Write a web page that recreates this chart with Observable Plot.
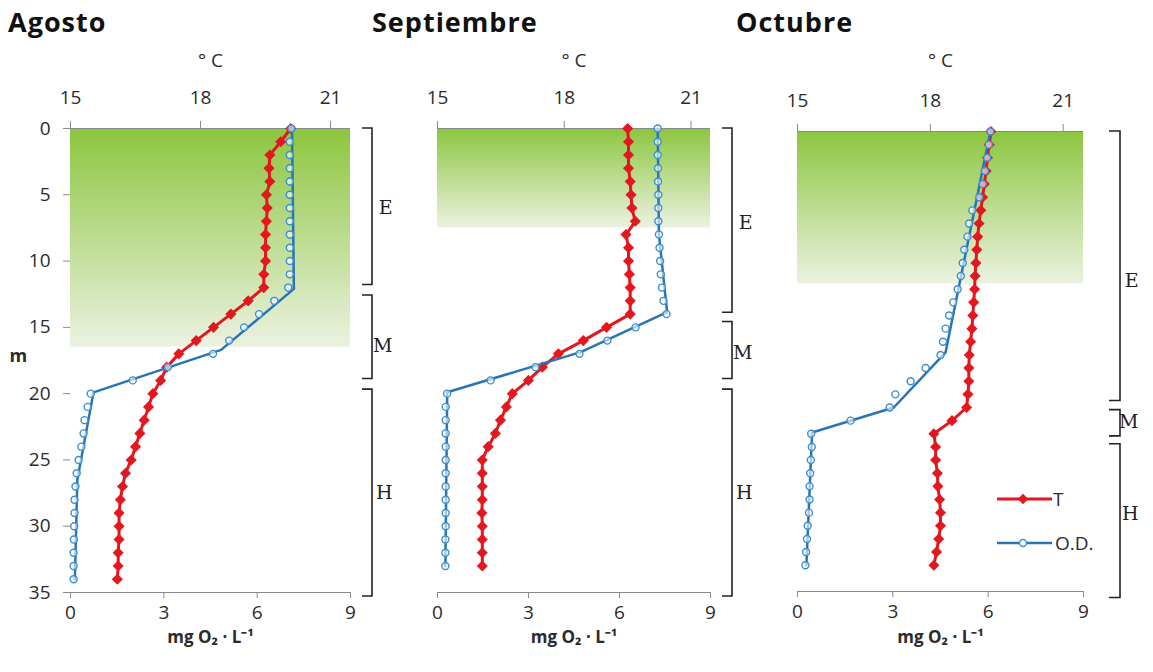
<!DOCTYPE html>
<html>
<head>
<meta charset="utf-8">
<script src="https://cdn.jsdelivr.net/npm/d3@7"></script>
<script src="https://cdn.jsdelivr.net/npm/@observablehq/plot@0.6"></script>
<style>
  body { margin: 0; background: #fff; }
  #root { position: relative; width: 1153px; height: 672px; overflow: hidden; font-family: "Open Sans", sans-serif; }
  .panel { position: absolute; top: 0; height: 672px; }
  .panel svg { position: absolute; top: 0; left: 0; }
  .title { position: absolute; top: 3px; font: 700 27px "Open Sans", sans-serif; letter-spacing: 1px; color: #111; white-space: nowrap; }
  .legend { position: absolute; left: 990px; top: 480px; }
</style>
</head>
<body>
<svg width="0" height="0" style="position:absolute">
  <defs>
    <linearGradient id="greenGrad" x1="0" y1="0" x2="0" y2="1">
      <stop offset="0" stop-color="#8cc63f"/>
      <stop offset="1" stop-color="#ebf2e0"/>
    </linearGradient>
  </defs>
</svg>
<div id="root"></div>
<script>
// ---------------- DATA ----------------
const months = ["Agosto", "Septiembre", "Octubre"];
const tempTicks = [15, 18, 21];
const oxyTicks = [0, 3, 6, 9];
const depthTicks = [0, 5, 10, 15, 20, 25, 30, 35];
const zoneLabels = ["E", "M", "H"];
const legendLabels = ["T", "O.D."];

// Agosto
const depthAgo = [0,1,2,3,4,5,6,7,8,9,10,11,12,13,14,15,16,17,18,19,20,21,22,23,24,25,26,27,28,29,30,31,32,33,34];
const tempAgo = [20.08,19.85,19.60,19.58,19.60,19.52,19.54,19.52,19.50,19.50,19.50,19.46,19.46,19.10,18.70,18.30,17.90,17.50,17.22,17.08,16.90,16.80,16.70,16.60,16.50,16.40,16.27,16.20,16.15,16.12,16.12,16.12,16.10,16.10,16.08];
const oxyAgo = [7.10,7.05,7.05,7.05,7.05,7.05,7.05,7.05,7.05,7.05,7.05,7.05,7.00,6.55,6.06,5.58,5.10,4.58,3.13,2.00,0.65,0.55,0.45,0.42,0.35,0.26,0.20,0.16,0.13,0.13,0.12,0.11,0.10,0.10,0.10];
const odLineDepthAgo = [0, 12.1, 16.7, 19.9, 26.5, 34];
const odLineValAgo = [7.12, 7.18, 4.84, 0.74, 0.22, 0.14];
const zoneTopAgo = [0, 12.6, 19.7];
const zoneBottomAgo = [11.8, 18.9, 35.3];
const zoneLabelDepthAgo = [6.0, 16.4, 27.5];
const photicAgo = 16.5;

// Septiembre
const depthSep = [0,1,2,3,4,5,6,7,8,9,10,11,12,13,14,15,16,17,18,19,20,21,22,23,24,25,26,27,28,29,30,31,32,33];
const tempSep = [19.50,19.52,19.52,19.52,19.56,19.58,19.60,19.68,19.46,19.52,19.52,19.54,19.56,19.56,19.56,19.00,18.45,17.86,17.48,17.15,16.77,16.63,16.49,16.37,16.20,16.06,16.06,16.06,16.06,16.05,16.06,16.06,16.06,16.06];
const oxySep = [7.26,7.26,7.26,7.27,7.27,7.28,7.28,7.28,7.30,7.32,7.34,7.36,7.40,7.45,7.55,6.53,5.60,4.68,3.23,1.75,0.32,0.27,0.27,0.27,0.27,0.27,0.27,0.27,0.27,0.27,0.27,0.26,0.26,0.26];
const odLineDepthSep = [0, 8, 13.85, 16.87, 19.9, 33];
const odLineValSep = [7.26, 7.30, 7.57, 4.72, 0.32, 0.26];
const zoneTopSep = [0, 14.6, 19.7];
const zoneBottomSep = [13.9, 18.9, 35.3];
const zoneLabelDepthSep = [7.1, 16.9, 27.5];
const photicSep = 7.5;

// Octubre
const depthOct = [0,1,2,3,4,5,6,7,8,9,10,11,12,13,14,15,16,17,18,19,20,21,22,23,24,25,26,27,28,29,30,31,32,33];
const tempOct = [19.37,19.33,19.29,19.26,19.22,19.18,19.14,19.10,19.07,19.05,19.03,19.01,19.00,18.98,18.96,18.94,18.91,18.88,18.87,18.87,18.85,18.82,18.49,18.08,18.12,18.12,18.16,18.17,18.21,18.23,18.23,18.19,18.14,18.08];
const oxyOct = [6.07,6.02,5.97,5.90,5.83,5.72,5.50,5.40,5.35,5.25,5.20,5.14,5.04,4.90,4.77,4.66,4.58,4.50,4.03,3.56,3.08,2.90,1.67,0.43,0.45,0.42,0.40,0.38,0.38,0.36,0.32,0.30,0.27,0.25];
const odLineDepthOct = [0, 16.8, 21.0, 22.9, 33];
const odLineValOct = [6.07, 4.66, 3.03, 0.46, 0.28];
const zoneTopOct = [0, 21.2, 23.8];
const zoneBottomOct = [20.5, 23.2, 35.5];
const zoneLabelDepthOct = [11.4, 22.1, 29.1];
const photicOct = 11.6;

// ---------------- STYLE / LAYOUT ----------------
const axisGray = "#8a8a8a";
const textColor = "#2b2b2b";
const red = "#e3171e";
const blue = "#2874b5";
const circleBlue = "#3a8fd0";
const tempDomain = [15, 21.46];
const oxyDomain = [0, 9];
const depthDomain = [0, 35];

const layout = [
  {left: 0,   ml: 70, pw: 280, mr: 60, top: 128, bottom: 592, yAxis: true,  bx: [12, 22], lx: 42, titleX: 8},
  {left: 420, ml: 17, pw: 273, mr: 60, top: 128, bottom: 592, yAxis: false, bx: [12, 22], lx: 42, titleX: 372},
  {left: 780, ml: 17, pw: 286, mr: 70, top: 131, bottom: 591, yAxis: false, bx: [26, 37], lx: 55, titleX: 736}
];

const series = [
  {depth: depthAgo, temp: tempAgo, oxy: oxyAgo, lineD: odLineDepthAgo, lineV: odLineValAgo, zTop: zoneTopAgo, zBot: zoneBottomAgo, zLab: zoneLabelDepthAgo, green: photicAgo},
  {depth: depthSep, temp: tempSep, oxy: oxySep, lineD: odLineDepthSep, lineV: odLineValSep, zTop: zoneTopSep, zBot: zoneBottomSep, zLab: zoneLabelDepthSep, green: photicSep},
  {depth: depthOct, temp: tempOct, oxy: oxyOct, lineD: odLineDepthOct, lineV: odLineValOct, zTop: zoneTopOct, zBot: zoneBottomOct, zLab: zoneLabelDepthOct, green: photicOct}
];

const root = document.getElementById("root");
const intFmt = d3.format("d");

series.forEach((s, k) => {
  const L = layout[k];
  const W = L.ml + L.pw + L.mr;
  const tRows = s.depth.map((d, i) => ({d, t: s.temp[i]}));
  const oRows = s.depth.map((d, i) => ({d, v: s.oxy[i]}));
  const lRows = s.lineD.map((d, i) => ({d, v: s.lineV[i]}));
  const zones = zoneLabels.map((z, i) => ({z, top: s.zTop[i], bottom: s.zBot[i], at: s.zLab[i]}));
  const base = {width: W, height: 672, marginLeft: L.ml, marginRight: L.mr, marginTop: L.top, marginBottom: 672 - L.bottom};
  const baseStyle = {fontFamily: "'Open Sans', sans-serif", fontSize: "19px", color: textColor, overflow: "visible"};

  // Temperature layer (top axis, green photic zone)
  const tPlot = Plot.plot({
    ...base,
    style: {...baseStyle, background: "white"},
    x: {domain: tempDomain},
    y: {domain: depthDomain, reverse: true, axis: null},
    marks: [
      Plot.rect([{top: 0, bottom: s.green}], {y1: "top", y2: "bottom", fill: "url(#greenGrad)"}),
      Plot.ruleY([depthTicks[0]], {stroke: axisGray, strokeWidth: 1.2}),
      Plot.axisX({anchor: "top", ticks: tempTicks, tickFormat: intFmt, tickSize: 8, tickPadding: 17, stroke: axisGray, fill: textColor, label: null, fontSize: 19}),
      Plot.text(["° C"], {frameAnchor: "top", dy: 53 - L.top, fontSize: 19, fill: textColor, letterSpacing: 2}),
      Plot.line(tRows, {x: "t", y: "d", stroke: red, strokeWidth: 3}),
      Plot.dot(tRows, {x: "t", y: "d", symbol: d3.symbolDiamond2, r: 5, fill: red, stroke: "none"})
    ]
  });

  // Oxygen layer (bottom axis, depth axis, zones)
  const oMarks = [
    Plot.ruleY([depthTicks[depthTicks.length - 1]], {stroke: axisGray, strokeWidth: 1.2}),
    Plot.axisX({anchor: "bottom", ticks: oxyTicks, tickFormat: intFmt, tickSize: 6, tickPadding: 7, stroke: axisGray, fill: textColor, label: null, fontSize: 19}),
    Plot.text(["mg O₂ · L⁻¹"], {frameAnchor: "bottom", dy: 642 - L.bottom, fontWeight: "bold", fontSize: 17, fill: textColor}),
    Plot.line(lRows, {x: "v", y: "d", stroke: blue, strokeWidth: 2.5}),
    Plot.dot(oRows, {x: "v", y: "d", r: 3.5, stroke: circleBlue, strokeWidth: 1.4, fill: "white", fillOpacity: 0.6}),
    Plot.text(zones, {y: "at", text: "z", frameAnchor: "right", dx: L.lx, fontFamily: "DejaVu Serif", fontSize: 19, fill: "#222"})
  ];
  if (L.yAxis) {
    oMarks.push(Plot.axisY({ticks: depthTicks, tickFormat: intFmt, tickSize: 7, tickPadding: 13, stroke: axisGray, fill: textColor, label: null, fontSize: 19}));
    oMarks.push(Plot.text(["m"], {frameAnchor: "left", dx: -61, dy: -4, fontWeight: "bold", fontSize: 18, fill: textColor}));
  }
  const oPlot = Plot.plot({
    ...base,
    style: {...baseStyle, background: "transparent"},
    x: {domain: oxyDomain},
    y: L.yAxis ? {domain: depthDomain, reverse: true} : {domain: depthDomain, reverse: true, axis: null},
    marks: oMarks
  });

  // Zone brackets, positioned with the plot's own depth scale
  const ys = oPlot.scale("y");
  const xr = L.ml + L.pw;
  const g = d3.select(oPlot).append("g").attr("fill", "none").attr("stroke", "#222").attr("stroke-width", 1.6);
  zones.forEach(z => {
    const y1 = ys.apply(z.top), y2 = ys.apply(z.bottom);
    g.append("path").attr("d", `M${xr + L.bx[0]},${y1}H${xr + L.bx[1]}V${y2}H${xr + L.bx[0]}`);
  });

  const div = document.createElement("div");
  div.className = "panel";
  div.style.left = L.left + "px";
  div.style.width = W + "px";
  div.appendChild(tPlot);
  div.appendChild(oPlot);
  root.appendChild(div);

  const title = document.createElement("div");
  title.className = "title";
  title.style.left = L.titleX + "px";
  title.textContent = months[k];
  root.appendChild(title);
});

// Legend (Octubre panel)
const lg = d3.select(root).append("svg").attr("class", "legend").attr("width", 163).attr("height", 80);
lg.append("line").attr("x1", 7).attr("x2", 62).attr("y1", 19).attr("y2", 19).attr("stroke", red).attr("stroke-width", 3);
lg.append("path").attr("d", d3.symbol(d3.symbolDiamond2, 70)()).attr("transform", "translate(33,19)").attr("fill", red);
lg.append("text").attr("x", 63).attr("y", 19).attr("dy", "0.35em").attr("font-family", "Open Sans").attr("font-size", 19).attr("fill", textColor).text(legendLabels[0]);
lg.append("line").attr("x1", 7).attr("x2", 62).attr("y1", 63).attr("y2", 63).attr("stroke", blue).attr("stroke-width", 2.5);
lg.append("circle").attr("cx", 33).attr("cy", 63).attr("r", 3.5).attr("fill", "white").attr("stroke", circleBlue).attr("stroke-width", 1.4);
lg.append("text").attr("x", 65).attr("y", 63).attr("dy", "0.35em").attr("font-family", "Open Sans").attr("font-size", 19).attr("fill", textColor).text(legendLabels[1]);
</script>
</body>
</html>
